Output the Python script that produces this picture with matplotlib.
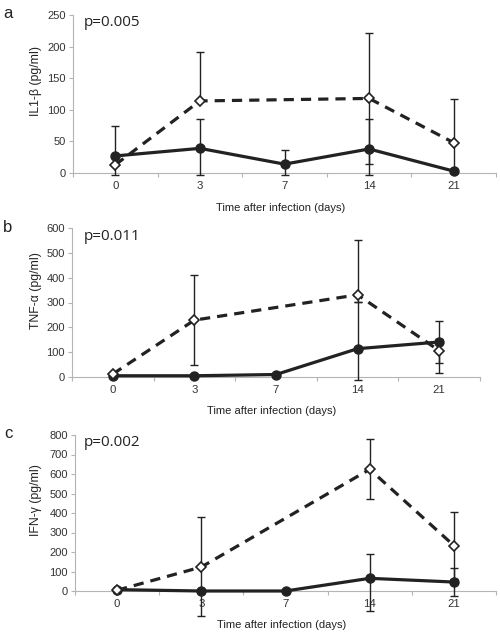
import numpy as np
import matplotlib
matplotlib.use("Agg")
import matplotlib.pyplot as plt
from matplotlib.ticker import MultipleLocator

plt.rcParams["font.family"] = ["Liberation Sans", "DejaVu Sans"]

DAYS = ["0", "3", "7", "14", "21"]

# IL1-beta (pg/ml): filled circles / open diamonds (no diamond at day 7)
il1_solid = [27, 39, 14, 38, 3]
il1_solid_lo = [30, 42, 17, 41, 3]
il1_solid_hi = [47, 46, 23, 47, 0]
il1_dash = [13, 114, None, 118, 48]
il1_dash_lo = [0, 0, None, 103, 48]
il1_dash_hi = [0, 77, None, 104, 69]

# TNF-alpha (pg/ml)
tnf_solid = [5, 5, 10, 114, 141]
tnf_solid_lo = [0, 0, 0, 125, 84]
tnf_solid_hi = [0, 0, 0, 188, 84]
tnf_dash = [12, 229, None, 331, 106]
tnf_dash_lo = [0, 179, None, 29, 91]
tnf_dash_hi = [0, 180, None, 221, 47]

# IFN-gamma (pg/ml)
ifn_solid = [7, 0, 0, 65, 46]
ifn_solid_lo = [0, 0, 0, 170, 73]
ifn_solid_hi = [0, 0, 0, 127, 72]
ifn_dash = [4, 123, None, 624, 233]
ifn_dash_lo = [0, 253, None, 151, 169]
ifn_dash_hi = [0, 254, None, 156, 173]

W, H = 500, 634
DARK = "#222222"
GRAY = "#b4b4b4"

panels = [
    # letter, p text, ylabel, ymax, ystep, axes box in px (left, top, right, bottom), series
    ("a", "p=0.005", "IL1-β (pg/ml)", 250, 50, (73, 15, 496, 173),
     (il1_solid, il1_solid_lo, il1_solid_hi, il1_dash, il1_dash_lo, il1_dash_hi)),
    ("b", "p=0.011", "TNF-α (pg/ml)", 600, 100, (72, 228, 480, 377),
     (tnf_solid, tnf_solid_lo, tnf_solid_hi, tnf_dash, tnf_dash_lo, tnf_dash_hi)),
    ("c", "p=0.002", "IFN-γ (pg/ml)", 800, 100, (75, 435, 496, 591),
     (ifn_solid, ifn_solid_lo, ifn_solid_hi, ifn_dash, ifn_dash_lo, ifn_dash_hi)),
]

fig = plt.figure(figsize=(W / 100, H / 100), dpi=100)

for letter, ptxt, ylab, ymax, ystep, (l, t, r, b), data in panels:
    s, s_lo, s_hi, d, d_lo, d_hi = data
    ax = fig.add_axes([l / W, 1 - b / H, (r - l) / W, (b - t) / H])
    x = np.arange(len(DAYS))

    ax.errorbar(x, s, yerr=[s_lo, s_hi], fmt="none", ecolor=DARK, elinewidth=1,
                capsize=3, capthick=1, zorder=2)
    ax.plot(x, s, "-", color=DARK, lw=2.3, marker="o", ms=6.5, mfc=DARK, mec=DARK, zorder=3)

    idx = [i for i, v in enumerate(d) if v is not None]
    dx = x[idx]
    dy = [d[i] for i in idx]
    ax.errorbar(dx, dy, yerr=[[d_lo[i] for i in idx], [d_hi[i] for i in idx]], fmt="none",
                ecolor=DARK, elinewidth=1, capsize=3, capthick=1, zorder=2)
    ax.plot(dx, dy, "--", color=DARK, lw=2.3, dashes=(3.2, 2.2), marker="D", ms=4.6,
            mfc="white", mec=DARK, mew=1.2, zorder=4)

    ax.set_xlim(-0.5, 4.5)
    ax.set_ylim(0, ymax)
    ax.yaxis.set_major_locator(MultipleLocator(ystep))
    ax.set_xticks(x)
    ax.set_xticklabels(DAYS)
    ax.set_xticks(np.arange(-0.5, 4.6, 1), minor=True)
    ax.tick_params(axis="x", which="major", length=0, pad=6, labelsize=8.2, labelcolor="#333333")
    ax.tick_params(axis="x", which="minor", length=3, width=0.8, color=GRAY, direction="out")
    ax.tick_params(axis="y", length=3, width=0.8, color=GRAY, pad=2, labelsize=8,
                   labelcolor="#333333")
    for side in ("top", "right"):
        ax.spines[side].set_visible(False)
    for side in ("left", "bottom"):
        ax.spines[side].set_color(GRAY)
        ax.spines[side].set_linewidth(0.8)
        ax.spines[side].set_zorder(1)
    for art in ax.lines + ax.collections:
        art.set_clip_on(False)

    ax.set_xlabel("Time after infection (days)", fontsize=8, color="#222222")
    ax.xaxis.set_label_coords(0.49, -29.5 / (b - t))
    ax.set_ylabel(ylab, fontsize=8.8, color="#222222")
    ax.yaxis.set_label_coords((42 - l) / (r - l), 0.58)

    ax.text(84 / W, 1 - (t + 8) / H, ptxt, transform=fig.transFigure, fontsize=11,
            family=["Open Sans", "DejaVu Sans"], ha="left", va="center", color="#222222")
    fig.text(8 / W, 1 - (t - 1) / H, letter, fontsize=12, ha="center", va="center",
             color="#222222")

fig.savefig("out.png", dpi=100)
